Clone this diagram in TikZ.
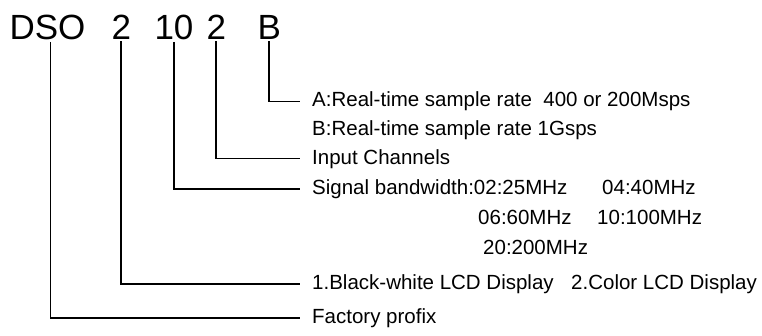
\documentclass[tikz,border=0pt]{standalone}
\usepackage{fontspec}
\setmainfont{Liberation Sans}
\begin{document}
\begin{tikzpicture}[x=1pt,y=1pt,
		part/.style={anchor=base west,inner sep=0pt,outer sep=1.5pt,font=\fontsize{35}{40}\selectfont},
		desc/.style={anchor=base west,inner sep=0pt,font=\fontsize{20.5}{25}\selectfont},
		lead/.style={line width=1.6pt}]
		\useasboundingbox (0,0) rectangle (762,335);
		
		% model code
		\node[part] (dso)  at (8,295)   {DSO};
		\node[part] (lcd)  at (110,295) {2};
		\node[part] (bw)   at (153,295) {10};
		\node[part] (ch)   at (205,295) {2};
		\node[part] (rate) at (256,295) {B};
		
		% descriptions
		\node[desc] (ratea)  at (312,228) {A:Real-time sample rate\ \ 400 or 200Msps};
		\node[desc] (rateb)  at (312,199) {B:Real-time sample rate 1Gsps};
		\node[desc] (chan)   at (312,171) {Input Channels};
		\node[desc] (band)   at (312,141) {Signal bandwidth:02:25MHz};
		\node[desc] (band4)  at (602,141) {04:40MHz};
		\node[desc] (band6)  at (478,111) {06:60MHz};
		\node[desc] (band10) at (597,111) {10:100MHz};
		\node[desc] (band20) at (483,81)  {20:200MHz};
		\node[desc] (mono)   at (312,46)  {1.Black-white LCD Display};
		\node[desc] (color)  at (571,46)  {2.Color LCD Display};
		\node[desc] (fact)   at (312,12)  {Factory profix};
		
		% leaders
		\draw[lead] (rate.south) |- ([xshift=-12pt]ratea.west);
		\draw[lead] (ch.south)   |- ([xshift=-12pt]chan.west);
		\draw[lead] (bw.south)   |- ([xshift=-12pt]band.west);
		\draw[lead] (lcd.south)  |- ([xshift=-12pt]mono.west);
		\draw[lead] ([xshift=3pt]dso.south) |- ([xshift=-12pt]fact.west);
\end{tikzpicture}
\end{document}
